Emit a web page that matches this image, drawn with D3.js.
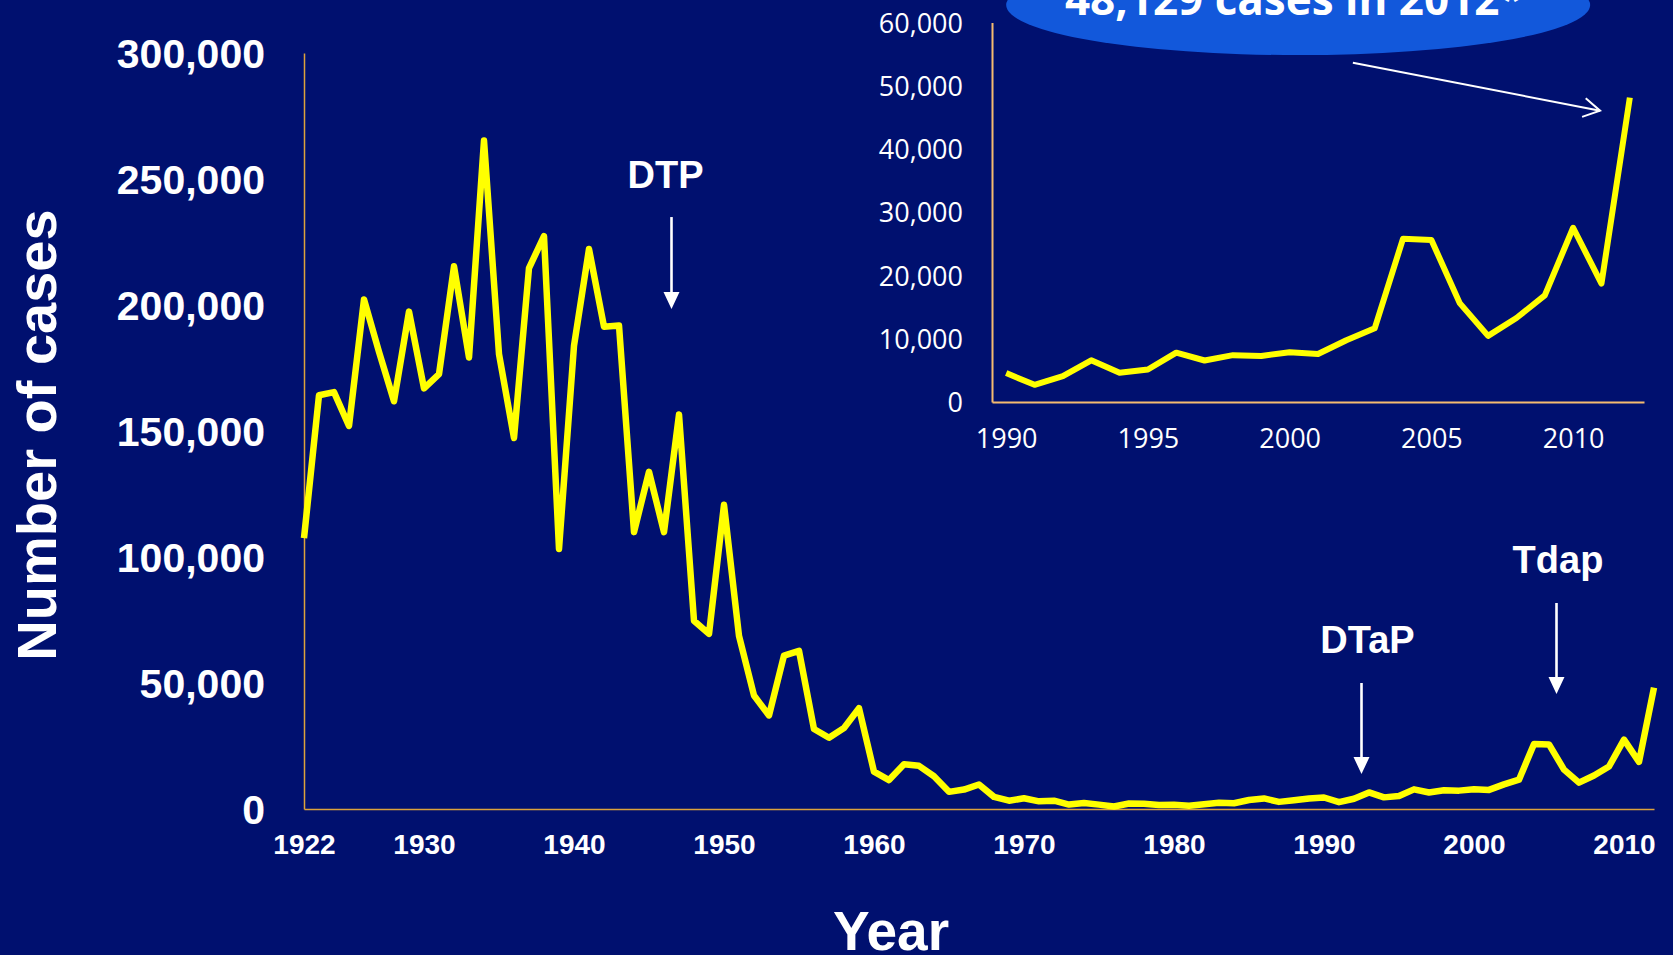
<!DOCTYPE html>
<html><head><meta charset="utf-8">
<script src="https://cdn.jsdelivr.net/npm/d3@7"></script>
<style>
html,body{margin:0;padding:0;background:#00106f;overflow:hidden}
svg{display:block}
</style></head><body>
<svg id="chart" width="1673" height="955"></svg>
<script>
// ---------------- data ----------------
const years = [
  1922,1923,1924,1925,1926,1927,1928,1929,1930,1931,
  1932,1933,1934,1935,1936,1937,1938,1939,1940,1941,
  1942,1943,1944,1945,1946,1947,1948,1949,1950,1951,
  1952,1953,1954,1955,1956,1957,1958,1959,1960,1961,
  1962,1963,1964,1965,1966,1967,1968,1969,1970,1971,
  1972,1973,1974,1975,1976,1977,1978,1979,1980,1981,
  1982,1983,1984,1985,1986,1987,1988,1989,1990,1991,
  1992,1993,1994,1995,1996,1997,1998,1999,2000,2001,
  2002,2003,2004,2005,2006,2007,2008,2009,2010,2011,
  2012];
const cases = [
  107473,164191,165418,152003,202210,181411,161799,197371,166914,172559,
  215343,179135,265269,180518,147237,214652,227319,103188,183866,222202,
  191383,191890,109873,133792,109860,156517,74715,69479,120718,68687,
  45030,37129,60886,62786,31732,28295,32148,40005,14809,11468,
  17749,17135,13005,6799,7717,9718,4810,3285,4249,3036,
  3287,1759,2402,1738,1010,2177,2063,1623,1730,1248,
  1895,2463,2276,3589,4195,2823,3450,4157,4570,2719,
  4083,6586,4617,5137,7796,6564,7405,7288,7867,7580,
  9771,11647,25827,25616,15632,10454,13278,16858,27550,18719,
  48129];
const mainYTicks = [0,50000,100000,150000,200000,250000,300000];
const mainXTicks = [1922,1930,1940,1950,1960,1970,1980,1990,2000,2010];
const insetYTicks = [0,10000,20000,30000,40000,50000,60000];
const insetXTicks = [1990,1995,2000,2005,2010];
const insetFirstYear = 1990;
const calloutText = "48,129 cases in 2012*";
const yAxisTitle = "Number of cases";
const xAxisTitle = "Year";
const vaccineLabels = ["DTP","DTaP","Tdap"];

// ---------------- layout (annotation placement in data units) ----------------
const annotationLayout = [
  {labelYear:1946.1, labelValue:246400, arrowYear:1946.5, fromValue:234900, toValue:198400},
  {labelYear:1992.9, labelValue:61900,  arrowYear:1992.5, fromValue:50000,  toValue:13900},
  {labelYear:2005.6, labelValue:93650,  arrowYear:2005.5, fromValue:81750,  toValue:45600}
];

const BG = '#00106f';
const BOLD = '"Liberation Sans", Arial, Helvetica, sans-serif';
const INSETFONT = '"Open Sans", "Noto Sans", sans-serif';

const svg = d3.select('#chart');
svg.append('rect').attr('width',1673).attr('height',955).attr('fill',BG);

const data = years.map((yr,i)=>({year:yr, value:cases[i]}));

// ---------------- main chart ----------------
const x = d3.scaleLinear().domain([1922,2012]).range([304,1654]);
const y = d3.scaleLinear().domain([0,300000]).range([809,53]);

const gy = svg.append('g').attr('transform','translate(304,0)')
  .call(d3.axisLeft(y).tickValues(mainYTicks).tickFormat(d3.format(',')).tickSize(0).tickPadding(39));
gy.select('.domain').attr('stroke','#dca23c').attr('stroke-width',1.5);
gy.selectAll('text').attr('fill','#fff').attr('font-family',BOLD).attr('font-weight','bold')
  .attr('font-size',41).attr('dy','0.36em');

const gx = svg.append('g').attr('transform','translate(0,809)')
  .call(d3.axisBottom(x).tickValues(mainXTicks).tickFormat(d3.format('d')).tickSize(0).tickPadding(25));
gx.select('.domain').attr('stroke','#dca23c').attr('stroke-width',1.5);
gx.selectAll('text').attr('fill','#fff').attr('font-family',BOLD).attr('font-weight','bold')
  .attr('font-size',28);

svg.append('text').attr('transform','translate(56,435) rotate(-90)')
  .attr('text-anchor','middle').attr('fill','#fff').attr('font-family',BOLD)
  .attr('font-weight','bold').attr('font-size',56).text(yAxisTitle);
svg.append('text').attr('x',891).attr('y',950)
  .attr('text-anchor','middle').attr('fill','#fff').attr('font-family',BOLD)
  .attr('font-weight','bold').attr('font-size',55).text(xAxisTitle);

const line = d3.line().x(d=>x(d.year)).y(d=>y(d.value));
svg.append('path').datum(data).attr('d',line).attr('fill','none')
  .attr('stroke','#ffff00').attr('stroke-width',6.5).attr('stroke-linejoin','round');

// vaccine annotations
annotationLayout.forEach((a,i)=>{
  svg.append('text').attr('x',x(a.labelYear)).attr('y',y(a.labelValue))
    .attr('text-anchor','middle').attr('fill','#fff').attr('font-family',BOLD)
    .attr('font-weight','bold').attr('font-size',38).text(vaccineLabels[i]);
  const ax = x(a.arrowYear), y0 = y(a.fromValue), y1 = y(a.toValue);
  svg.append('line').attr('x1',ax).attr('x2',ax).attr('y1',y0).attr('y2',y1-12)
    .attr('stroke','#fff').attr('stroke-width',2.6);
  svg.append('path').attr('d',`M${ax-8},${y1-17}L${ax+8},${y1-17}L${ax},${y1}Z`).attr('fill','#fff');
});

// ---------------- inset ----------------
const xi = d3.scaleLinear().domain([1989.5,2012.5]).range([992,1644]);
const yi = d3.scaleLinear().domain([0,60000]).range([402,22.5]);

// callout ellipse
const callout = {year:2000.3, value:62750, rx:292, ry:50};
svg.append('ellipse').attr('cx',xi(callout.year)).attr('cy',yi(callout.value))
  .attr('rx',callout.rx).attr('ry',callout.ry).attr('fill','#1258db');
svg.append('text').attr('x',xi(callout.year)-4).attr('y',15).attr('text-anchor','middle')
  .attr('fill','#fff').attr('font-family',INSETFONT).attr('font-weight','bold')
  .attr('font-size',44).text(calloutText);

const giy = svg.append('g').attr('transform','translate(992,0)')
  .call(d3.axisLeft(yi).tickValues(insetYTicks).tickFormat(d3.format(',')).tickSize(0).tickPadding(29));
giy.select('.domain').attr('stroke','#f5bb70').attr('stroke-width',2);
giy.selectAll('text').attr('fill','#fff').attr('font-family',INSETFONT)
  .attr('font-size',27).attr('dy','0.36em');

const gix = svg.append('g').attr('transform','translate(0,402)')
  .call(d3.axisBottom(xi).tickValues(insetXTicks).tickFormat(d3.format('d')).tickSize(0).tickPadding(27));
gix.select('.domain').attr('stroke','#f5bb70').attr('stroke-width',2);
gix.selectAll('text').attr('fill','#fff').attr('font-family',INSETFONT).attr('font-size',27);

const insetData = data.filter(d=>d.year>=insetFirstYear);
const iline = d3.line().x(d=>xi(d.year)).y(d=>yi(d.value));
svg.append('path').datum(insetData).attr('d',iline).attr('fill','none')
  .attr('stroke','#ffff00').attr('stroke-width',6).attr('stroke-linejoin','round');

// callout arrow
const ca = {fromYear:2002.23, fromValue:53640, toYear:2010.95, toValue:46050};
const sx = xi(ca.fromYear), sy = yi(ca.fromValue), tx = xi(ca.toYear), ty = yi(ca.toValue);
svg.append('line').attr('x1',sx).attr('y1',sy).attr('x2',tx).attr('y2',ty)
  .attr('stroke','#fff').attr('stroke-width',2);
const ang = Math.atan2(ty-sy, tx-sx), hl = 19, ha = Math.PI/6;
const p1 = [tx - hl*Math.cos(ang-ha), ty - hl*Math.sin(ang-ha)];
const p2 = [tx - hl*Math.cos(ang+ha), ty - hl*Math.sin(ang+ha)];
svg.append('path').attr('d',`M${p1[0]},${p1[1]}L${tx},${ty}L${p2[0]},${p2[1]}`)
  .attr('fill','none').attr('stroke','#fff').attr('stroke-width',2);
</script>
</body></html>
